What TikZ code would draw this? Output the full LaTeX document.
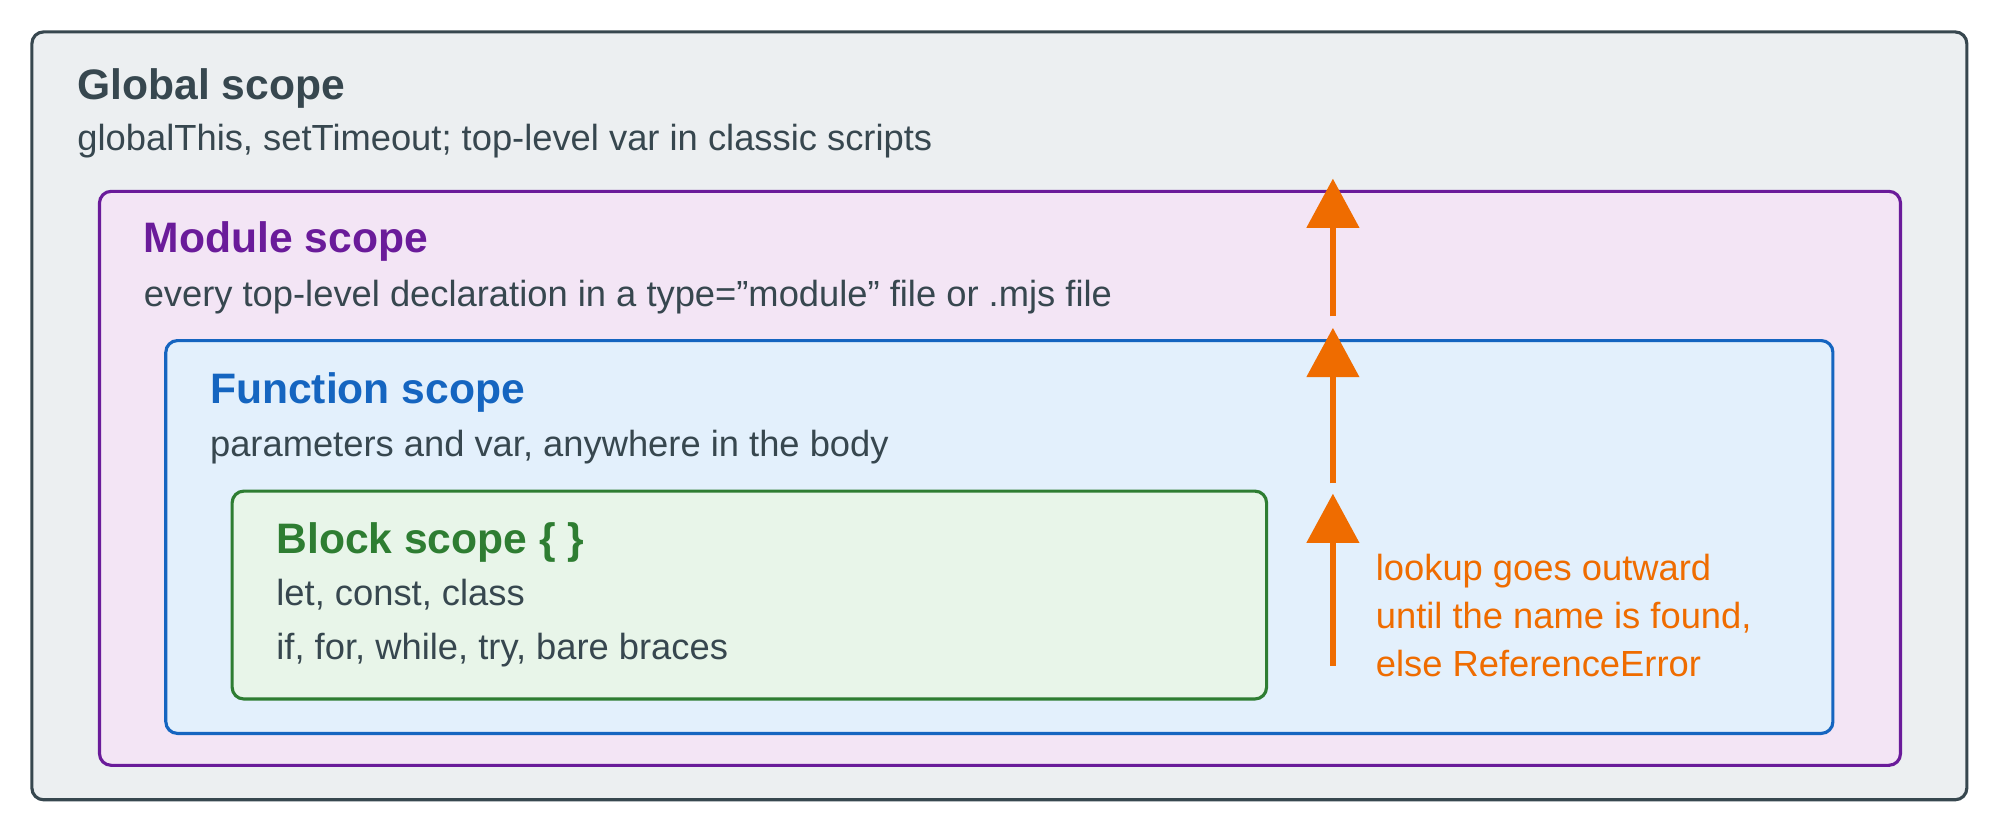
\documentclass[tikz,border=0pt]{standalone}
\usepackage{fontspec}
\setmainfont{Liberation Sans}
\usetikzlibrary{arrows.meta}
\definecolor{gstroke}{HTML}{37474F}\definecolor{gfill}{HTML}{ECEFF1}
\definecolor{mstroke}{HTML}{6A1B9A}\definecolor{mfill}{HTML}{F3E5F5}
\definecolor{fstroke}{HTML}{1565C0}\definecolor{ffill}{HTML}{E3F0FC}
\definecolor{bstroke}{HTML}{2E7D32}\definecolor{bfill}{HTML}{E8F5E9}
\definecolor{orng}{HTML}{EF6C00}\definecolor{txt}{HTML}{37474F}
\begin{document}
\begin{tikzpicture}[x=0.01cm,y=-0.01cm,
  box/.style={rounded corners=2.6pt,line width=0.7pt},
  ttl/.style={anchor=base west,inner sep=0,font=\fontsize{9.5}{11}\selectfont\bfseries},
  sub/.style={anchor=base west,inner sep=0,font=\fontsize{8.1}{9}\selectfont,text=txt},
  up/.style={orng,line width=1.4pt,-{Triangle[length=11pt,width=11.5pt]}}]
\useasboundingbox (0,0) rectangle (1568,653);
\draw[box,draw=gstroke,fill=gfill] (25,25) rectangle (1542,627);
\draw[box,draw=mstroke,fill=mfill] (78,150) rectangle (1490,600);
\draw[box,draw=fstroke,fill=ffill] (130,267) rectangle (1437,575);
\draw[box,draw=bstroke,fill=bfill] (182,385) rectangle (993,548);
\node[ttl,text=txt] (gt) at (60,78) {Global scope};
\node[sub] (gs) at (60,118) {globalThis, setTimeout; top-level var in classic scripts};
\node[ttl,text=mstroke] (mt) at (112,198) {Module scope};
\node[sub] (ms) at (112,240) {every top-level declaration in a type=\symbol{34}module\symbol{34} file or .mjs file};
\node[ttl,text=fstroke] (ft) at (164,316) {Function scope};
\node[sub] (fs) at (164,358) {parameters and var, anywhere in the body};
\node[ttl,text=bstroke] (bt) at (216,434) {Block scope \{ \}};
\node[sub] (b1) at (216,475) {let, const, class};
\node[sub] (b2) at (216,517) {if, for, while, try, bare braces};
\node[sub,text=orng] (o1) at (1078,455) {lookup goes outward};
\node[sub,text=orng] (o2) at (1078,493) {until the name is found,};
\node[sub,text=orng] (o3) at (1078,530) {else ReferenceError};
\coordinate (a1s) at (1045,522); \coordinate (a1e) at (1045,387);
\coordinate (a2s) at (1045,379); \coordinate (a2e) at (1045,257);
\coordinate (a3s) at (1045,248); \coordinate (a3e) at (1045,140);
\draw[up] (a1s) -- (a1e);
\draw[up] (a2s) -- (a2e);
\draw[up] (a3s) -- (a3e);
\end{tikzpicture}
\end{document}
